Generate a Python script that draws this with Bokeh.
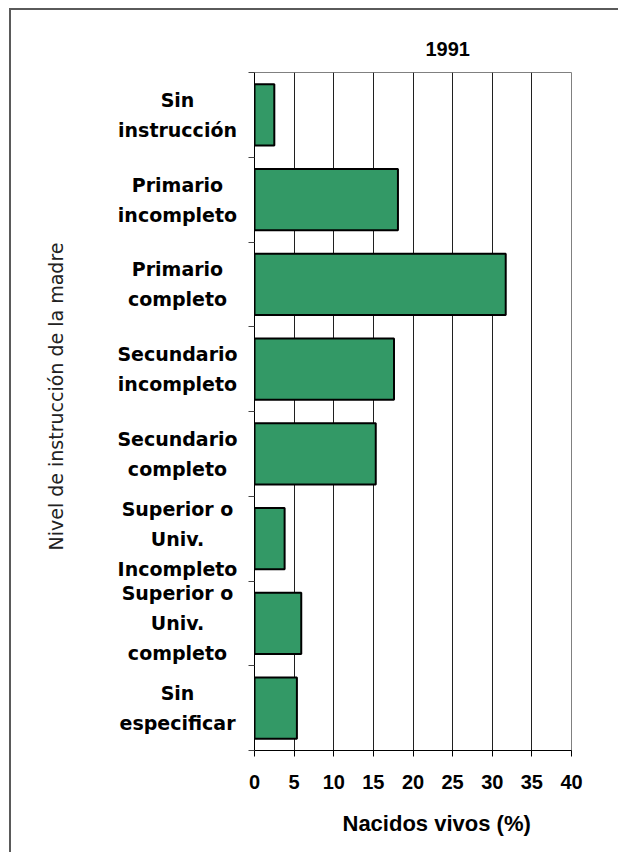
import math
from bokeh.plotting import figure
from bokeh.models import Range1d, FixedTicker, Title
from bokeh.layouts import row
from bokeh.embed import file_html
from bokeh.resources import INLINE
from bokeh.core.properties import value

title_text = "1991"
categories = [
    "Sin\ninstrucción",
    "Primario\nincompleto",
    "Primario\ncompleto",
    "Secundario\nincompleto",
    "Secundario\ncompleto",
    "Superior o\nUniv.\nIncompleto",
    "Superior o\nUniv.\ncompleto",
    "Sin\nespecificar",
]
values = [2.5, 18.1, 31.7, 17.6, 15.3, 3.8, 5.9, 5.35]
x_ticks = [0, 5, 10, 15, 20, 25, 30, 35, 40]
x_label = "Nacidos vivos (%)"
y_label = "Nivel de instrucción de la madre"

n = len(categories)
ypos = [n - i - 0.5 for i in range(n)]

TOP, FRAME_H, BOTTOM = 62, 678, 102
H = TOP + FRAME_H + BOTTOM
y_range = Range1d(0, n)

# ---------------- main chart ----------------
ML = 12
p = figure(width=ML + 317 + 47, height=H, output_backend="svg", toolbar_location=None,
           x_range=Range1d(0, 40), y_range=y_range,
           min_border_left=ML, min_border_right=47, min_border_top=TOP,
           min_border_bottom=BOTTOM)
p.background_fill_color = "white"
p.border_fill_color = "white"
p.outline_line_color = "#808080"
p.outline_line_width = 1

p.title.text = title_text
p.title.align = "left"
p.title.offset = 171
p.title.standoff = 34
p.title.text_font = "Liberation Sans"
p.title.text_font_style = "bold"
p.title.text_font_size = "20px"
p.title.text_color = "black"

p.hbar(y=ypos, right=values, left=0, height=0.72, fill_color="#339966",
       line_color="black", line_width=2)

# x axis
p.xaxis.ticker = FixedTicker(ticks=x_ticks)
p.xaxis.axis_line_color = "black"
p.xaxis.major_tick_line_color = "black"
p.xaxis.major_tick_out = 6
p.xaxis.major_tick_in = 0
p.xaxis.minor_tick_line_color = None
p.xaxis.major_label_text_font = "Liberation Sans"
p.xaxis.major_label_text_font_style = "bold"
p.xaxis.major_label_text_font_size = "20px"
p.xaxis.major_label_text_color = "black"
p.xaxis.major_label_standoff = 18

p.add_layout(Title(text=x_label, align="left", offset=88, standoff=34,
                   text_font="Liberation Sans", text_font_style="bold",
                   text_font_size="22px", text_color="black"), "below")

# y axis: ticks at category boundaries only
p.yaxis.ticker = FixedTicker(ticks=[], minor_ticks=list(range(n + 1)))
p.yaxis.axis_line_color = "black"
p.yaxis.minor_tick_line_color = "#444444"
p.yaxis.minor_tick_out = 6
p.yaxis.minor_tick_in = 0

# grid
p.xgrid.ticker = FixedTicker(ticks=x_ticks[1:-1])
p.xgrid.grid_line_color = "#202020"
p.xgrid.grid_line_width = 1
p.ygrid.grid_line_color = None

# ---------------- category label panel ----------------
LW = 243 - ML
lab = figure(width=LW, height=H, output_backend="svg", toolbar_location=None,
             x_range=Range1d(0, LW), y_range=y_range,
             x_axis_location=None, y_axis_location=None,
             min_border_left=0, min_border_right=0, min_border_top=TOP,
             min_border_bottom=BOTTOM)
lab.grid.visible = False
lab.outline_line_color = None
lab.background_fill_color = "white"
lab.border_fill_color = "white"

lab.text(x=[166] * n, y=ypos, text=categories,
         text_align="center", text_baseline="middle",
         text_font=value("DejaVu Sans"), text_font_style="bold",
         text_font_size="19px", text_color="black", text_line_height=1.36)

lab.text(x=[44], y=[(FRAME_H + 72 - 396) / (FRAME_H / n)], text=[y_label],
         angle=math.pi / 2, text_align="center", text_baseline="middle",
         text_font=value("DejaVu Sans"), text_font_style="normal",
         text_font_size="19px", text_color="#222222")

layout = row(lab, p, spacing=0)
layout.styles = {"border-top": "2px solid #5a5a5a", "border-left": "2px solid #5a5a5a",
                 "margin-left": "9px", "margin-top": "8px"}

open("out.html", "w").write(file_html(layout, INLINE))
